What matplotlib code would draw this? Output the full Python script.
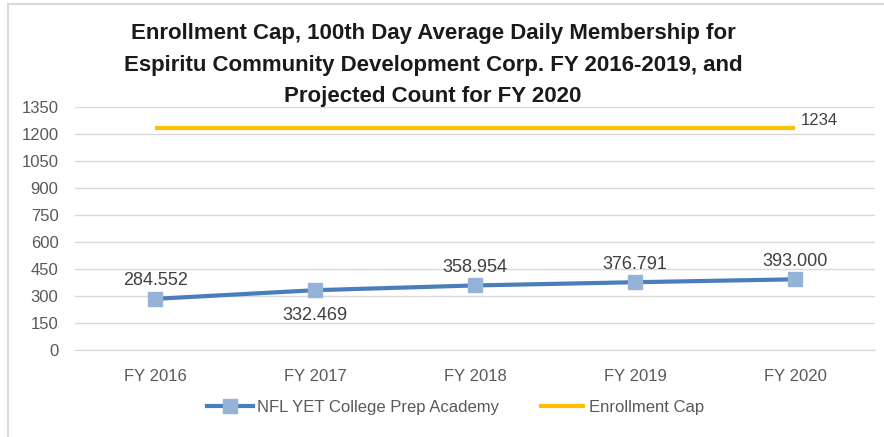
import numpy as np
import matplotlib.pyplot as plt
from matplotlib.patches import Rectangle

# Data
years = ['FY 2016', 'FY 2017', 'FY 2018', 'FY 2019', 'FY 2020']
adm = [284.552, 332.469, 358.954, 376.791, 393.000]
cap = [1234, 1234, 1234, 1234, 1234]
label_below = [False, True, False, False, False]

plt.rcParams['font.family'] = ['Liberation Sans', 'DejaVu Sans']

fig = plt.figure(figsize=(8.84, 4.37), dpi=100)
ax = fig.add_axes([0.085, 0.199, 0.905, 0.556])

# light frame round the chart area
fig.patches.append(Rectangle((0.009, -0.02), 1.0, 1.01, transform=fig.transFigure,
                             fill=False, edgecolor='#d9d9d9', linewidth=1.5))

x = np.arange(len(years))
ax.plot(x, cap, color='#FFC000', linewidth=3, solid_capstyle='butt', label='Enrollment Cap')
ax.plot(x, adm, color='#4A7EBB', linewidth=3, marker='s', markersize=10,
        markerfacecolor='#95B3D7', markeredgecolor='#95B3D7',
        label='NFL YET College Prep Academy')

for xi, v, below in zip(x, adm, label_below):
    if below:
        ax.annotate(f'{v:.3f}', (xi, v), xytext=(0, -12), textcoords='offset points',
                    ha='center', va='top', fontsize=13, color='#404040')
    else:
        ax.annotate(f'{v:.3f}', (xi, v), xytext=(0, 7), textcoords='offset points',
                    ha='center', va='bottom', fontsize=13, color='#404040')
ax.annotate(f'{cap[-1]}', (x[-1], cap[-1]), xytext=(4, 0), textcoords='offset points',
            ha='left', va='bottom', fontsize=12, color='#404040')

ax.set_xlim(-0.5, len(years) - 0.5)
ax.set_ylim(0, 1350)
ax.set_yticks(np.arange(0, 1351, 150))
ax.set_xticks(x)
ax.set_xticklabels(years)
ax.tick_params(axis='both', length=0, labelsize=12, colors='#595959')
ax.tick_params(axis='y', pad=12)
ax.tick_params(axis='x', pad=14)
ax.grid(axis='y', color='#d9d9d9', linewidth=1)
ax.set_axisbelow(True)
for s in ['top', 'right', 'left']:
    ax.spines[s].set_visible(False)
ax.spines['bottom'].set_color('#d9d9d9')

handles, labels = ax.get_legend_handles_labels()
leg = fig.legend(handles[::-1], labels[::-1], loc='center', bbox_to_anchor=(0.515, 0.068),
                 ncol=2, frameon=False, fontsize=12, handlelength=2.8,
                 handletextpad=0.2, columnspacing=2.4)
for t in leg.get_texts():
    t.set_color('#595959')

fig.text(0.49, 0.948, 'Enrollment Cap, 100th Day Average Daily Membership for\n'
         'Espiritu Community Development Corp. FY 2016-2019, and\n'
         'Projected Count for FY 2020',
         ha='center', va='top', fontsize=16, fontweight='bold', color='#1a1a1a',
         linespacing=1.68)

fig.savefig('out.png', dpi=100)
